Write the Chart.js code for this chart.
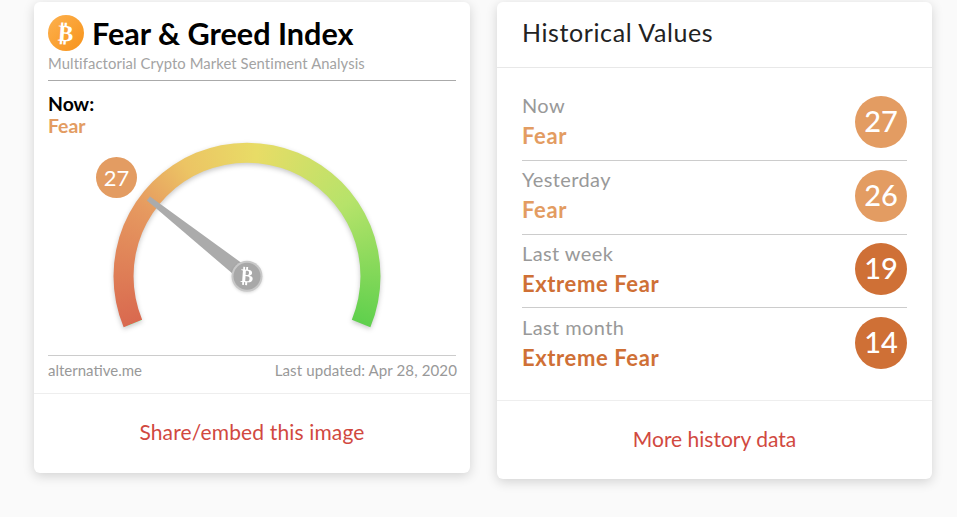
<!DOCTYPE html>
<html>
<head>
<meta charset="utf-8">
<script src="https://cdn.jsdelivr.net/npm/chart.js@4"></script>
<style>
html, body { margin: 0; padding: 0; background: #fafafa; overflow: hidden; }
body { width: 957px; height: 517px; position: relative; font-family: Lato, sans-serif; }
.card { position: absolute; background: #fff; border-radius: 6px; box-shadow: 0 3px 12px rgba(0,0,0,.16); }
.abs { position: absolute; white-space: nowrap; line-height: 1; }
.line { position: absolute; height: 1px; }
#gauge { position: absolute; left: 47px; top: 125px; }
.badge { position: absolute; border-radius: 50%; color: #fff; text-align: center; font-family: Lato, sans-serif; }
</style>
</head>
<body>
<div class="card" style="left:34px;top:2px;width:436px;height:471px"></div>
<div class="card" style="left:497px;top:2px;width:435px;height:477px"></div>

<div class="badge" style="left:48px;top:15px;width:36px;height:36px;line-height:36px;font-size:23px;font-weight:700;font-family:'DejaVu Sans';background:linear-gradient(135deg,#fdb14f,#f7931a)"><span style="display:inline-block;transform:rotate(4deg)">₿</span></div>
<div class="abs" style="left:92px;top:19px;font-size:30.6px;font-weight:700;color:#000">Fear &amp; Greed Index</div>
<div class="abs" style="left:48px;top:56px;font-size:14.8px;color:#a3a3a3;letter-spacing:.1px">Multifactorial Crypto Market Sentiment Analysis</div>
<div class="line" style="left:48px;top:80px;width:408px;background:#aaa"></div>
<div class="abs" style="left:48px;top:94px;font-size:19.4px;font-weight:700;color:#000">Now:</div>
<div class="abs" style="left:48px;top:116px;font-size:19.4px;font-weight:700;color:#e39c62" id="nowClass"></div>

<canvas id="gauge" width="400" height="220"></canvas>
<div class="badge" id="nowBadge" style="left:96px;top:157px;width:41px;height:41px;line-height:41px;font-size:22px;background:#e39c62"></div>

<div class="line" style="left:48px;top:355px;width:408px;background:#ccc"></div>
<div class="abs" style="left:48px;top:363px;font-size:15px;color:#999">alternative.me</div>
<div class="abs" style="right:500px;top:363px;font-size:15.1px;letter-spacing:.08px;color:#999">Last updated: Apr 28, 2020</div>
<div class="line" style="left:34px;top:393px;width:436px;background:#eee"></div>
<div class="abs" style="left:34px;width:436px;text-align:center;top:421px;font-size:21px;letter-spacing:.15px;color:#d1493f">Share/embed this image</div>

<div class="abs" style="left:522px;top:20px;font-size:25px;letter-spacing:.6px;color:#222">Historical Values</div>
<div class="line" style="left:497px;top:67px;width:435px;background:#e8e8e8"></div>
<div id="rows"></div>
<div class="line" style="left:497px;top:400px;width:435px;background:#eee"></div>
<div class="abs" style="left:497px;width:435px;text-align:center;top:428px;font-size:21px;color:#d1493f">More history data</div>

<script>
const historyLabels = ['Now', 'Yesterday', 'Last week', 'Last month'];
const historyClasses = ['Fear', 'Fear', 'Extreme Fear', 'Extreme Fear'];
const historyValues = [27, 26, 19, 14];
const classColors = { 'Fear': '#e39c62', 'Extreme Fear': '#cf7036' };

const gaugeValue = 27;
const gaugeMax = 100;
const gaugeStops = [[0, '#d9694f'], [0.25, '#e69a60'], [0.37, '#ecc464'], [0.52, '#e8dc66'], [0.74, '#b6e36a'], [1, '#5fd04d']];

// Right hand list
const rows = document.getElementById('rows');
historyLabels.forEach((label, i) => {
    const top = 96 + Math.round(i * 73.67);
    rows.insertAdjacentHTML('beforeend',
        `<div class="abs" style="left:522px;top:${95 + i * 74}px;font-size:20px;letter-spacing:.4px;color:#999">${label}</div>` +
        `<div class="abs" style="left:522px;top:${125 + i * 74}px;font-size:22px;letter-spacing:.6px;font-weight:700;color:${classColors[historyClasses[i]]}">${historyClasses[i]}</div>` +
        `<div class="badge" style="left:855px;top:${top}px;width:52px;height:52px;line-height:50px;font-size:29px;font-weight:500;background:${classColors[historyClasses[i]]}">${historyValues[i]}</div>`);
    if (i < 3) {
        rows.insertAdjacentHTML('beforeend', `<div class="line" style="left:522px;top:${top + 64}px;width:385px;background:#ccc"></div>`);
    }
});
document.getElementById('nowClass').textContent = historyClasses[0];
document.getElementById('nowBadge').textContent = gaugeValue;

const startDeg = -112.5;
const sweepDeg = 225;

function gaugeGradient(context) {
    const chart = context.chart;
    const meta = chart.getDatasetMeta(0);
    if (!chart.chartArea) return '#e9d766';
    const x = (chart.chartArea.left + chart.chartArea.right) / 2 + (meta.controller.offsetX || 0);
    const y = (chart.chartArea.top + chart.chartArea.bottom) / 2 + (meta.controller.offsetY || 0);
    const g = chart.ctx.createConicGradient((startDeg - 90) * Math.PI / 180, x, y);
    gaugeStops.forEach(s => g.addColorStop(s[0] * sweepDeg / 360, s[1]));
    g.addColorStop(1, gaugeStops[gaugeStops.length - 1][1]);
    return g;
}

// Needle and hub are not something a doughnut has
const needlePlugin = {
    id: 'needle',
    beforeDatasetsDraw(chart) {
        chart.ctx.save();
        chart.ctx.shadowColor = 'rgba(0,0,0,.22)';
        chart.ctx.shadowBlur = 5;
        chart.ctx.shadowOffsetY = 2;
    },
    afterDatasetsDraw(chart) {
        const ctx = chart.ctx;
        ctx.restore();
        const arc = chart.getDatasetMeta(0).data[0];
        const a = (startDeg - 90 + sweepDeg * gaugeValue / gaugeMax) * Math.PI / 180;
        const len = arc.innerRadius + 12;
        ctx.save();
        ctx.translate(arc.x, arc.y);
        ctx.rotate(a);
        ctx.fillStyle = '#ababab';
        ctx.beginPath();
        ctx.moveTo(0, -7.5);
        ctx.lineTo(len, -2.5);
        ctx.lineTo(len, 2.5);
        ctx.lineTo(0, 7.5);
        ctx.closePath();
        ctx.fill();
        ctx.restore();

        ctx.save();
        ctx.translate(arc.x, arc.y);
        ctx.shadowColor = 'rgba(0,0,0,.15)';
        ctx.shadowBlur = 3;
        ctx.shadowOffsetY = 1;
        ctx.fillStyle = '#c8c8c8';
        ctx.beginPath();
        ctx.arc(0, 0, 15.5, 0, Math.PI * 2);
        ctx.fill();
        ctx.shadowColor = 'transparent';
        ctx.fillStyle = '#a8a8a8';
        ctx.beginPath();
        ctx.arc(0, 0, 13.5, 0, Math.PI * 2);
        ctx.fill();
        ctx.rotate(4 * Math.PI / 180);
        ctx.fillStyle = '#fff';
        ctx.font = 'bold 19px "DejaVu Sans"';
        ctx.textAlign = 'center';
        ctx.textBaseline = 'middle';
        ctx.fillText('₿', 0, 1);
        ctx.restore();
    }
};

new Chart(document.getElementById('gauge').getContext('2d'), {
    type: 'doughnut',
    data: {
        labels: ['Index'],
        datasets: [{
            data: [gaugeMax],
            backgroundColor: gaugeGradient,
            borderWidth: 0,
            hoverOffset: 0
        }]
    },
    options: {
        responsive: false,
        animation: false,
        rotation: startDeg,
        circumference: sweepDeg,
        radius: 133.5,
        cutout: '85%',
        layout: { padding: 0 },
        plugins: { legend: { display: false }, tooltip: { enabled: false } }
    },
    plugins: [needlePlugin]
});
</script>
</body>
</html>
